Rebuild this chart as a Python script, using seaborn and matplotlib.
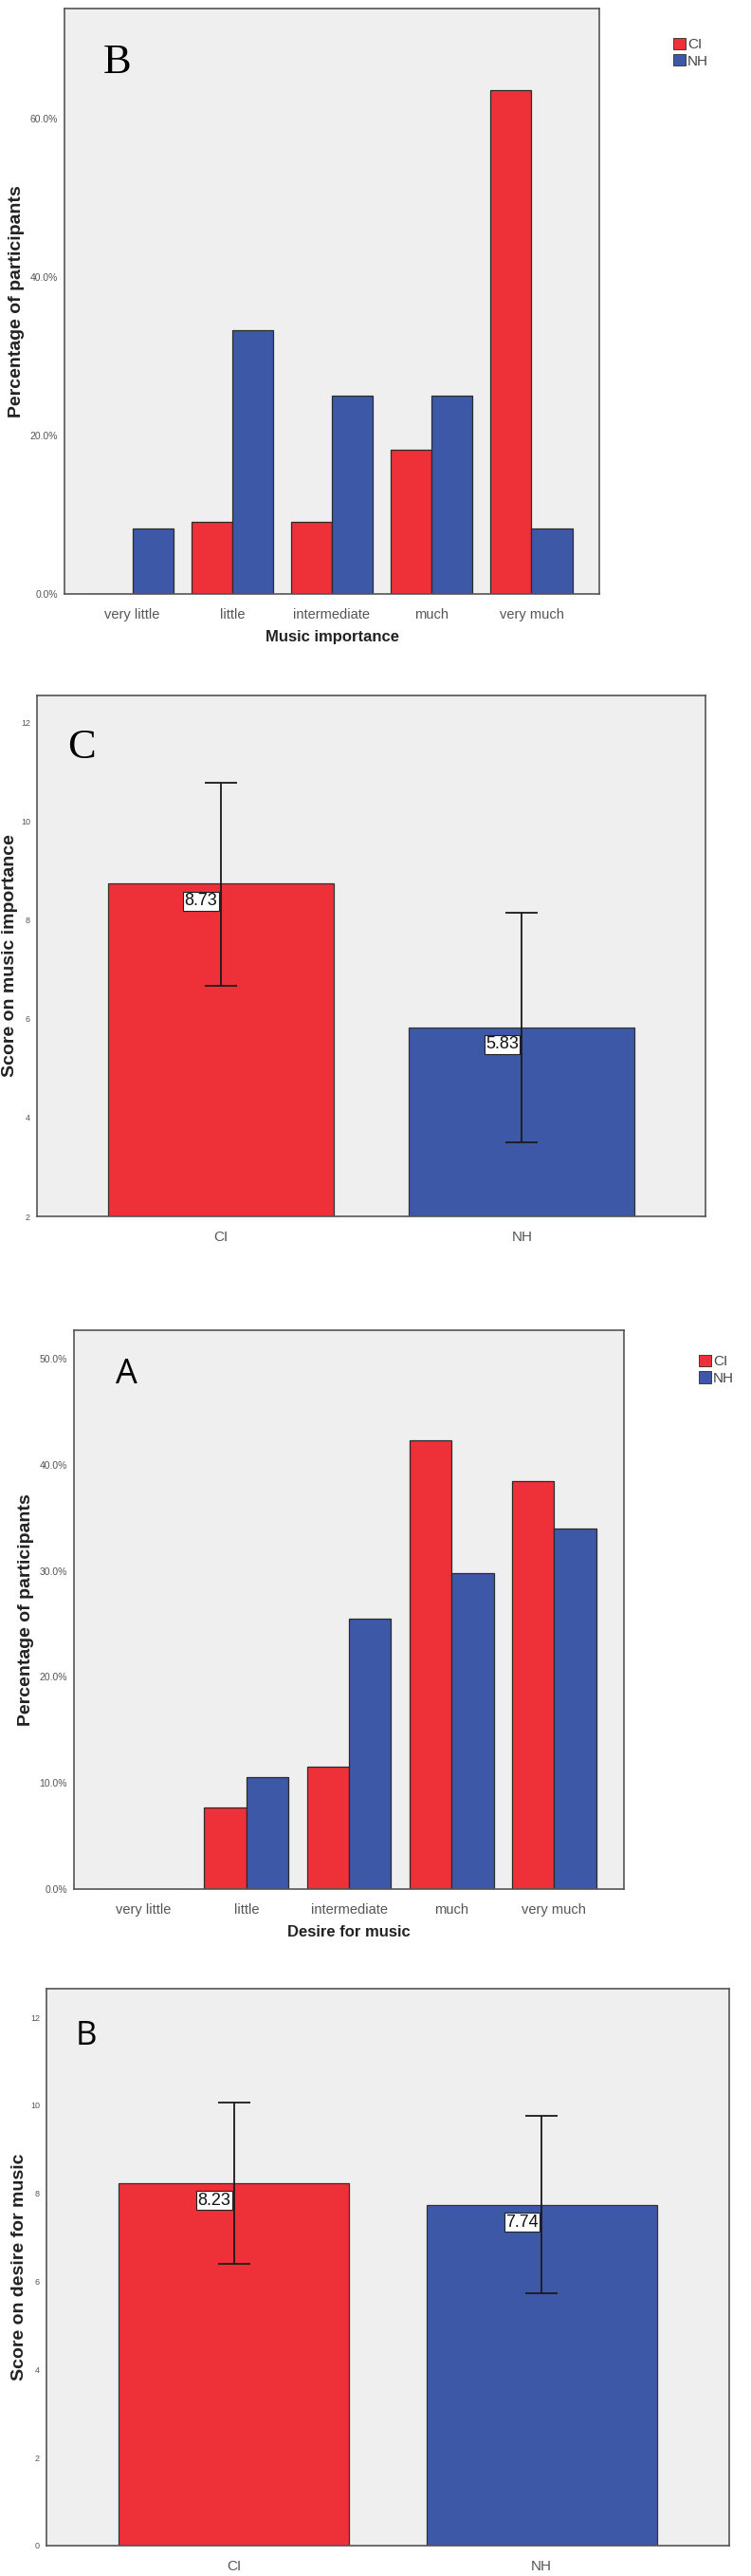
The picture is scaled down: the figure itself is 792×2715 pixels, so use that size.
import matplotlib
matplotlib.use("Agg")
import matplotlib.pyplot as plt
import seaborn as sns
import pandas as pd
import numpy as np
from matplotlib.patches import Patch

# ---- data ----
levels = ["very little", "little", "intermediate", "much", "very much"]
groups = ["CI", "NH"]

# panel B (top): music importance, % of participants
imp_ci = [0.0, 9.1, 9.1, 18.2, 63.6]
imp_nh = [8.3, 33.3, 25.0, 25.0, 8.3]

# panel C: score on music importance (mean and error bar ends)
imp_mean = [8.73, 5.83]
imp_low = [6.66, 3.50]
imp_high = [10.78, 8.15]

# panel A: desire for music, % of participants
des_ci = [0.0, 7.7, 11.5, 42.3, 38.5]
des_nh = [0.0, 10.6, 25.5, 29.8, 34.0]

# panel B (bottom): score on desire for music
des_mean = [8.23, 7.74]
des_low = [6.41, 5.73]
des_high = [10.07, 9.77]

pct_ticks_1 = [0, 20, 40, 60]
pct_ticks_3 = [0, 10, 20, 30, 40, 50]
score_ticks_2 = [2, 4, 6, 8, 10, 12]
score_ticks_4 = [0, 2, 4, 6, 8, 10, 12]

RED = "#ee3038"
BLUE = "#3e58a8"
pal = {"CI": RED, "NH": BLUE}
EDGE = "#2b2b2b"
BG = "#efefef"
SPINE = "#555555"
TICKC = "#555555"

W, H = 792, 2715
DPI = 100

sns.set_style("white")
plt.rcParams['font.family'] = ['Liberation Sans', 'DejaVu Sans']

fig = plt.figure(figsize=(W / DPI, H / DPI), dpi=DPI)


def px_axes(l, t, r, b):
    return fig.add_axes([l / W, 1 - b / H, (r - l) / W, (b - t) / H])


def style_ax(ax):
    ax.set_facecolor(BG)
    for s in ax.spines.values():
        s.set_color(SPINE)
        s.set_linewidth(1.2)
    ax.tick_params(axis="y", direction="out", length=4, width=0.8, colors=SPINE,
                   labelcolor=TICKC, pad=1)
    ax.tick_params(axis="x", direction="out", length=8, width=0.8, colors=SPINE,
                   labelcolor=TICKC, labelsize=10.5, pad=3)
    ax.grid(False)


def pct_panel(ax, ci, nh, ticks, ymax, xlabel, letter, letter_font, letter_size, lx, ly, leg_xy):
    df = pd.DataFrame({
        "level": levels * 2,
        "pct": ci + nh,
        "group": ["CI"] * len(levels) + ["NH"] * len(levels),
    })
    sns.barplot(data=df, x="level", y="pct", hue="group", hue_order=groups,
                palette=pal, width=0.82, edgecolor=EDGE, linewidth=0.9,
                saturation=1, errorbar=None, ax=ax)
    style_ax(ax)
    ax.set_xlim(-0.68, 4.68)
    ax.set_ylim(0, ymax)
    ax.set_yticks(ticks)
    ax.set_yticklabels(["%.1f%%" % t for t in ticks], fontsize=7.5)
    ax.set_xlabel(xlabel, fontsize=12, fontweight="bold", color="#222222", labelpad=6)
    ax.set_ylabel("Percentage of participants", fontsize=14, fontweight="bold",
                  color="#222222", labelpad=4)
    ax.text(lx, ly, letter, transform=ax.transAxes, fontsize=letter_size,
            family=letter_font, va="baseline", ha="left", color="black")
    if ax.get_legend() is not None:
        ax.get_legend().remove()
    handles = [Patch(facecolor=pal[g], edgecolor=EDGE, linewidth=0.6, label=g) for g in groups]
    ax.legend(handles=handles, loc="upper left", bbox_to_anchor=leg_xy, frameon=False,
              fontsize=11, handlelength=0.85, handleheight=0.85, handletextpad=0.15,
              labelspacing=0.2, borderpad=0, borderaxespad=0, labelcolor="#444444")


def score_panel(ax, means, low, high, ticks, ylo, yhi, ylabel, letter, letter_font, letter_size, lx, ly):
    sns.barplot(x=groups, y=means, hue=groups, palette=pal, width=0.75,
                edgecolor="#333333", linewidth=0.9, saturation=1, errorbar=None,
                legend=False, ax=ax)
    m = np.array(means)
    yerr = [m - np.array(low), np.array(high) - m]
    ax.errorbar([0, 1], m, yerr=yerr, fmt="none", ecolor="#1a1a1a",
                elinewidth=1.3, capsize=12.5, capthick=1.3, zorder=5)
    style_ax(ax)
    ax.set_xlim(-0.61, 1.61)
    ax.set_ylim(ylo, yhi)
    ax.set_yticks(ticks)
    ax.set_yticklabels([str(t) for t in ticks], fontsize=6.5)
    ax.tick_params(axis="x", labelsize=11)
    ax.set_ylabel(ylabel, fontsize=14, fontweight="bold", color="#222222", labelpad=2)
    for i, v in enumerate(means):
        ax.annotate("%.2f" % v, (i, v), xytext=(-15, -7), textcoords="offset points",
                    ha="center", va="top", fontsize=13, color="#111111",
                    bbox=dict(boxstyle="square,pad=0.08", fc="white", ec="#222222", lw=0.8),
                    zorder=6)
    ax.text(lx, ly, letter, transform=ax.transAxes, fontsize=letter_size,
            family=letter_font, va="baseline", ha="left", color="black")


# panel B (top)
ax1 = px_axes(68, 9, 632, 626)
pct_panel(ax1, imp_ci, imp_nh, pct_ticks_1, 73.9, "Music importance",
          "B", "Liberation Serif", 32, 0.072, 0.89, (1.138, 0.95))

# panel C
ax2 = px_axes(39, 733, 744, 1282)
score_panel(ax2, imp_mean, imp_low, imp_high, score_ticks_2, 2, 12.54,
            "Score on music importance", "C", "Liberation Serif", 32, 0.045, 0.88)

# panel A
ax3 = px_axes(78, 1402, 658, 1991)
pct_panel(ax3, des_ci, des_nh, pct_ticks_3, 52.7, "Desire for music",
          "A", "Open Sans", 26, 0.076, 0.905, (1.136, 0.956))

# panel B (bottom)
ax4 = px_axes(49, 2096, 769, 2683)
score_panel(ax4, des_mean, des_low, des_high, score_ticks_4, 0, 12.65,
            "Score on desire for music", "B", "Open Sans", 25, 0.043, 0.9)

fig.savefig("out.png", dpi=DPI, facecolor="white")
